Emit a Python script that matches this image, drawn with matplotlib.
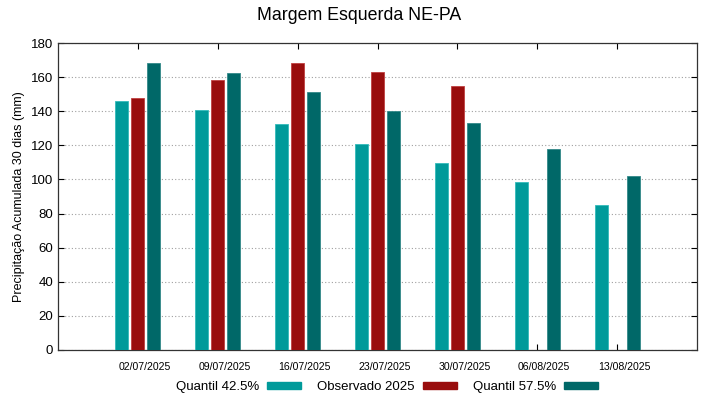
import numpy as np
import matplotlib
matplotlib.use("Agg")
import matplotlib.pyplot as plt
import matplotlib.transforms as mtransforms
from matplotlib.patches import Patch

plt.rcParams['font.family'] = ['Liberation Sans', 'DejaVu Sans']

dates = ["02/07/2025", "09/07/2025", "16/07/2025", "23/07/2025",
         "30/07/2025", "06/08/2025", "13/08/2025"]
q425 = [146, 141, 132.5, 121, 109.5, 98.5, 85]
obs2025 = [148, 158.5, 168, 163, 154.5, np.nan, np.nan]
q575 = [168, 162.5, 151, 140, 133, 118, 102]

c_q425 = "#009a9a"
c_obs = "#990d0d"
c_q575 = "#006868"

fig = plt.figure(figsize=(7.19, 3.99), dpi=100)
ax = fig.add_axes([58/719, 49/399, (697-58)/719, (350-43)/399])

x = np.arange(len(dates))
w = 0.165
off = 0.2
ax.bar(x - off, q425, w, color=c_q425, edgecolor="#33bbbb", linewidth=0.6, zorder=3)
ax.bar(x, obs2025, w, color=c_obs, edgecolor="#c04040", linewidth=0.6, zorder=3)
ax.bar(x + off, q575, w, color=c_q575, edgecolor="#338888", linewidth=0.6, zorder=3)

ax.set_xlim(-1, 7)
ax.set_ylim(0, 180)
ax.set_yticks(np.arange(0, 181, 20))
ax.set_xticks(x)
ax.set_xticklabels(dates, fontsize=7.6)
ax.tick_params(axis='y', labelsize=9.5, direction='in', length=4, right=True, width=0.8)
ax.tick_params(axis='x', direction='in', length=4, top=True, width=0.8, pad=9)
shift = mtransforms.ScaledTranslation(7/100, 0, fig.dpi_scale_trans)
for lab in ax.get_xticklabels():
    lab.set_transform(lab.get_transform() + shift)
ax.grid(axis='y', linestyle=(0, (1, 2)), color="#a0a0a0", linewidth=0.8, zorder=0)
for s in ax.spines.values():
    s.set_linewidth(0.9)
    s.set_color("#333333")

ax.set_ylabel("Precipitação Acumulada 30 dias (mm)", fontsize=9)
ax.yaxis.set_label_coords(-0.052, 0.5)
fig.text(0.5, 1 - 16/399, "Margem Esquerda NE-PA", fontsize=12.8, ha='center', va='center')

handles = [Patch(color=c_q425), Patch(color=c_obs), Patch(color=c_q575)]
labels = ["Quantil 42.5%", "Observado 2025", "Quantil 57.5%"]
fig.legend(handles, labels, loc='center', bbox_to_anchor=(387/719, 1 - 387/399), ncol=3,
           frameon=False, markerfirst=False, fontsize=9.5, handlelength=2.6,
           handleheight=0.45, columnspacing=1.2, handletextpad=0.6)

fig.savefig("out.png", dpi=100)
